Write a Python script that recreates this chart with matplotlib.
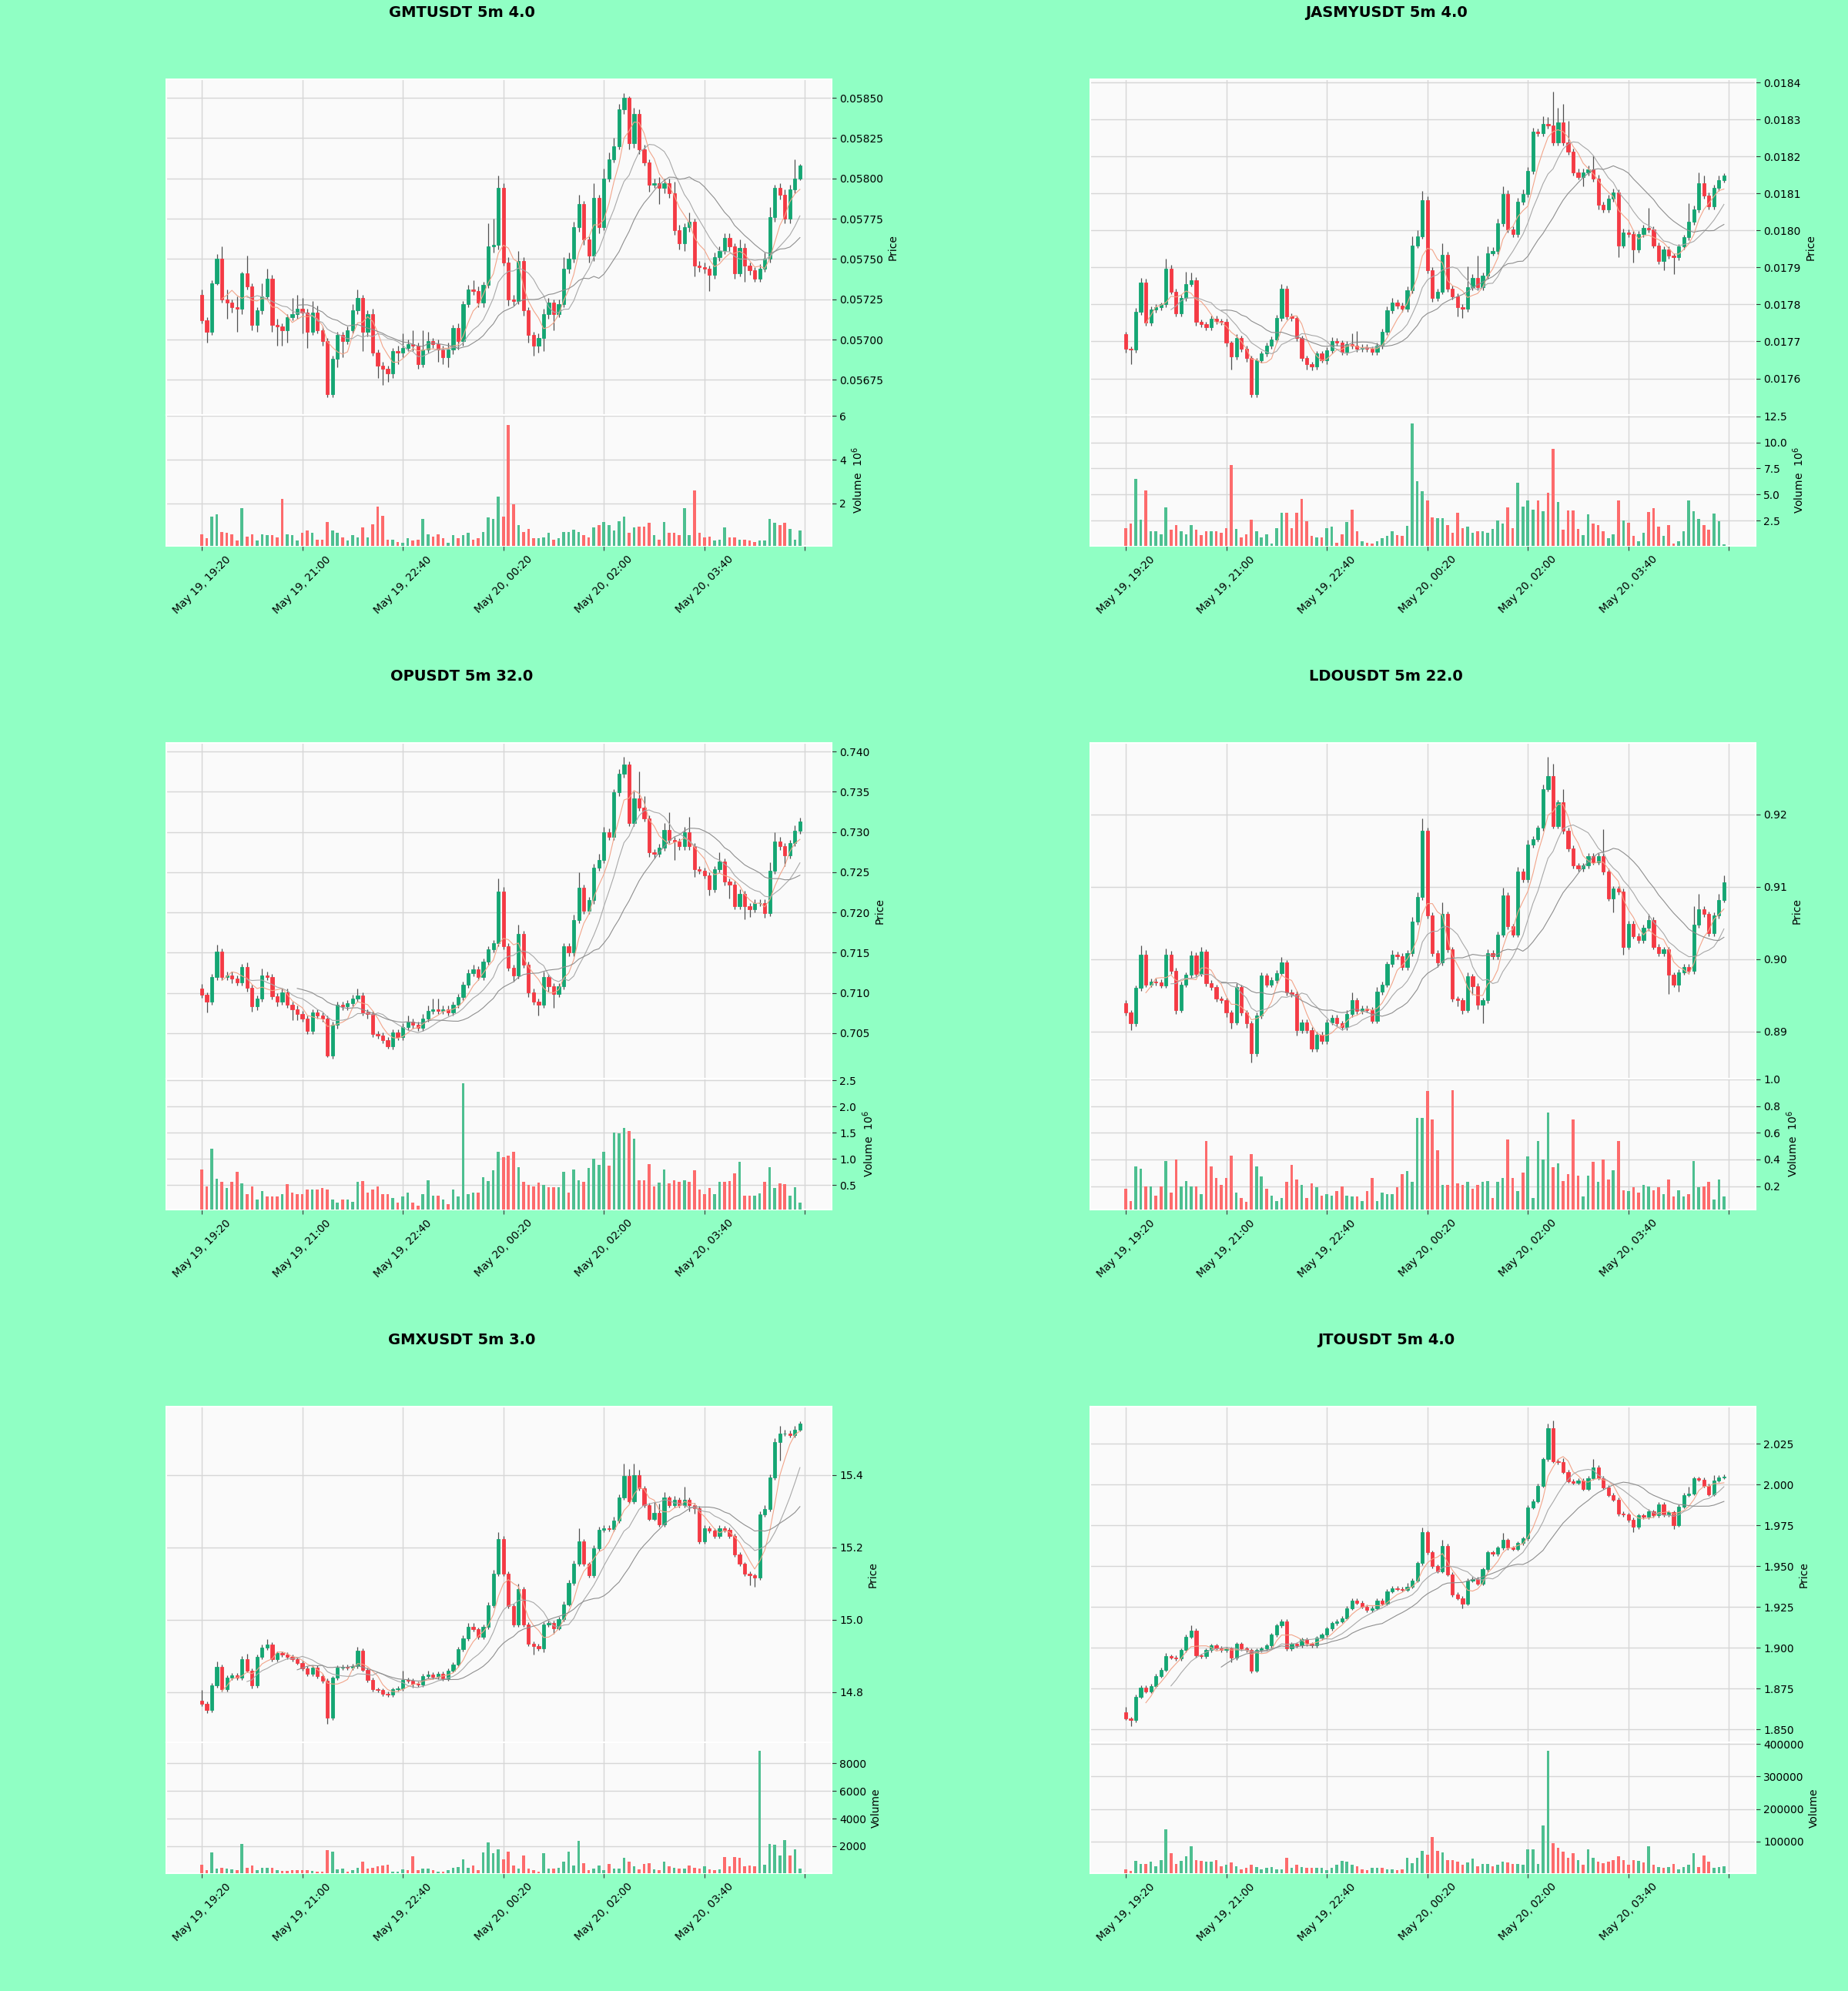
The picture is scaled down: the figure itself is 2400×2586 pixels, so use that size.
import numpy as np
import pandas as pd
import matplotlib
matplotlib.use("Agg")
import matplotlib.pyplot as plt

# ---------------- data ----------------
start_time = "2024-05-19 19:20"
n_bars = 120
tick_step = 20
mav = (5, 10, 20)

titles = ["GMTUSDT 5m 4.0", "JASMYUSDT 5m 4.0", "OPUSDT 5m 32.0",
          "LDOUSDT 5m 22.0", "GMXUSDT 5m 3.0", "JTOUSDT 5m 4.0"]

# GMTUSDT (prices in 1e-5, volume in 1e6)
gmt_unit = 1e-5
gmt_open0 = 5728
gmt_close = [5712, 5705, 5735, 5750, 5725, 5723, 5720, 5719, 5741, 5733,
             5709, 5718, 5727, 5738, 5709, 5708, 5706, 5714, 5716, 5719,
             5717, 5705, 5717, 5706, 5699, 5666, 5688, 5703, 5699, 5706,
             5718, 5726, 5705, 5716, 5692, 5684, 5682, 5679, 5693, 5692,
             5695, 5697, 5696, 5685, 5694, 5699, 5697, 5694, 5689, 5694,
             5707, 5699, 5722, 5731, 5730, 5723, 5734, 5758, 5759, 5794,
             5748, 5725, 5724, 5749, 5718, 5703, 5696, 5701, 5716, 5723,
             5716, 5722, 5744, 5750, 5770, 5784, 5762, 5752, 5788, 5770,
             5800, 5812, 5820, 5843, 5850, 5822, 5840, 5818, 5810, 5796,
             5797, 5794, 5797, 5791, 5768, 5760, 5770, 5773, 5746, 5745,
             5744, 5740, 5751, 5755, 5763, 5758, 5741, 5757, 5746, 5743,
             5738, 5744, 5750, 5776, 5794, 5790, 5775, 5793, 5800, 5808]
gmt_wick_up = [3, 2, 2, 3, 8, 6, 2, 7, 1, 11, 2, 2, 8, 6, 2, 4, 2, 2, 10, 9,
               7, 2, 7, 4, 2, 2, 2, 2, 2, 2, 4, 5, 2, 2, 3, 2, 2, 2, 2, 3,
               9, 3, 9, 2, 12, 6, 2, 3, 2, 4, 2, 3, 2, 3, 6, 3, 2, 14, 16, 8,
               3, 3, 3, 6, 2, 2, 2, 3, 3, 3, 2, 3, 7, 4, 3, 6, 2, 2, 9, 2,
               6, 4, 5, 3, 3, 1, 4, 3, 3, 2, 3, 4, 3, 3, 7, 3, 2, 6, 2, 3,
               3, 2, 3, 3, 3, 3, 2, 5, 3, 2, 2, 3, 4, 6, 2, 3, 3, 3, 12, 1]
gmt_wick_dn = [2, 7, 2, 1, 2, 10, 3, 14, 3, 2, 3, 4, 2, 2, 4, 12, 10, 8, 2, 3,
               13, 10, 2, 2, 3, 2, 2, 5, 10, 2, 2, 2, 12, 3, 2, 8, 10, 5, 3, 7,
               3, 2, 3, 3, 2, 2, 2, 8, 4, 6, 3, 5, 3, 2, 2, 3, 3, 2, 4, 3,
               2, 4, 3, 2, 3, 5, 6, 4, 8, 3, 10, 2, 2, 3, 2, 3, 3, 4, 3, 4,
               2, 2, 2, 2, 3, 4, 3, 3, 2, 4, 2, 10, 3, 3, 3, 4, 5, 3, 7, 3,
               3, 10, 2, 2, 2, 3, 3, 2, 10, 3, 2, 2, 2, 2, 3, 3, 3, 3, 2, 1]
gmt_volume = [0.6, 0.4, 1.4, 1.5, 0.7, 0.65, 0.6, 0.3, 1.8, 0.5,
              0.6, 0.3, 0.6, 0.55, 0.55, 0.45, 2.2, 0.6, 0.55, 0.3,
              0.65, 0.75, 0.65, 0.35, 0.35, 1.15, 0.75, 0.65, 0.45, 0.3,
              0.55, 0.45, 0.9, 0.45, 1.05, 1.85, 1.45, 0.35, 0.35, 0.25,
              0.2, 0.4, 0.3, 0.35, 1.3, 0.6, 0.5, 0.6, 0.4, 0.2,
              0.55, 0.4, 0.55, 0.65, 0.35, 0.4, 0.7, 1.35, 1.3, 2.3,
              1.4, 5.6, 1.95, 1.0, 0.7, 0.85, 0.4, 0.4, 0.45, 0.65,
              0.35, 0.4, 0.7, 0.7, 0.8, 0.7, 0.55, 0.45, 0.9, 1.0,
              1.15, 1.0, 0.75, 1.2, 1.4, 0.65, 0.9, 0.95, 0.95, 1.1,
              0.55, 0.35, 1.15, 0.65, 0.65, 0.55, 1.8, 0.55, 2.6, 0.65,
              0.45, 0.5, 0.3, 0.35, 0.9, 0.45, 0.45, 0.35, 0.35, 0.3,
              0.25, 0.3, 0.3, 1.3, 1.1, 1.0, 1.1, 0.85, 0.35, 0.75]

# JASMYUSDT (prices in 1e-6, volume in 1e6)
jasmy_unit = 1e-6
jasmy_open0 = 17719
jasmy_close = [17680, 17678, 17780, 17860, 17751, 17786, 17793, 17800, 17897, 17835,
               17776, 17818, 17856, 17866, 17753, 17747, 17738, 17761, 17755, 17753,
               17696, 17659, 17709, 17680, 17655, 17558, 17650, 17667, 17688, 17705,
               17763, 17843, 17768, 17763, 17709, 17655, 17638, 17632, 17667, 17650,
               17676, 17701, 17696, 17671, 17692, 17688, 17680, 17684, 17680, 17671,
               17688, 17726, 17784, 17805, 17797, 17789, 17839, 17960, 17985, 18082,
               17893, 17818, 17835, 17935, 17843, 17822, 17793, 17789, 17847, 17872,
               17847, 17877, 17939, 17944, 18019, 18098, 18002, 17990, 18078, 18098,
               18161, 18266, 18262, 18287, 18283, 18237, 18291, 18237, 18212, 18157,
               18145, 18157, 18166, 18140, 18069, 18057, 18086, 18103, 17960, 17994,
               17990, 17948, 17990, 18006, 18002, 17960, 17918, 17948, 17931, 17927,
               17956, 17981, 18023, 18057, 18128, 18094, 18065, 18115, 18136, 18149]
jasmy_wick_up = [8, 6, 10, 12, 10, 8, 8, 6, 26, 10, 8, 8, 33, 20, 8, 6, 6, 8, 8, 6,
                 8, 6, 10, 6, 8, 6, 6, 8, 8, 8, 8, 13, 8, 8, 6, 6, 6, 6, 8, 8,
                 8, 10, 8, 8, 10, 30, 40, 8, 8, 6, 8, 8, 10, 12, 8, 8, 10, 25, 15, 25,
                 10, 8, 8, 30, 8, 8, 8, 8, 55, 10, 60, 10, 17, 10, 12, 21, 10, 8, 10, 12,
                 10, 12, 10, 21, 20, 92, 40, 50, 60, 10, 10, 10, 10, 37, 10, 8, 10, 10, 8, 10,
                 8, 8, 8, 10, 55, 8, 8, 8, 8, 8, 8, 8, 50, 10, 29, 20, 8, 8, 13, 6]
jasmy_wick_dn = [10, 40, 8, 8, 8, 8, 8, 8, 8, 8, 8, 8, 8, 8, 10, 8, 8, 8, 8, 8,
                 10, 34, 8, 8, 10, 8, 8, 8, 8, 8, 8, 8, 8, 8, 8, 8, 13, 10, 8, 8,
                 12, 8, 8, 8, 8, 8, 8, 8, 8, 8, 8, 8, 8, 8, 8, 8, 8, 8, 8, 8,
                 8, 10, 8, 8, 8, 8, 26, 26, 8, 8, 8, 8, 8, 8, 8, 8, 8, 8, 8, 8,
                 8, 8, 8, 8, 8, 8, 8, 8, 8, 8, 8, 26, 8, 8, 13, 8, 8, 8, 33, 8,
                 8, 34, 8, 8, 8, 8, 8, 25, 8, 46, 8, 8, 8, 8, 8, 8, 8, 8, 8, 6]
jasmy_volume = [1.75, 2.2, 6.5, 2.6, 5.4, 1.45, 1.45, 1.2, 3.8, 1.6,
                2.05, 1.45, 1.15, 2.05, 1.6, 1.1, 1.45, 1.45, 1.45, 1.3,
                1.8, 7.8, 1.7, 0.9, 1.15, 2.6, 1.5, 0.85, 1.15, 0.3,
                1.75, 3.25, 3.25, 1.8, 3.25, 4.6, 2.4, 1.0, 0.9, 0.9,
                1.75, 1.9, 0.4, 1.2, 2.35, 3.55, 1.45, 0.55, 0.4, 0.3,
                0.55, 0.8, 1.0, 1.45, 1.1, 1.0, 2.0, 11.8, 6.25, 5.3,
                4.4, 2.8, 2.75, 2.75, 2.05, 1.3, 3.25, 1.8, 1.9, 1.3,
                1.45, 1.45, 1.3, 1.7, 2.5, 2.2, 3.8, 1.75, 6.1, 3.85,
                4.45, 3.55, 4.45, 3.4, 5.2, 9.4, 4.3, 1.6, 3.5, 3.5,
                1.7, 1.1, 3.1, 2.2, 2.1, 1.45, 0.8, 1.15, 4.45, 2.5,
                2.3, 1.0, 0.55, 1.3, 3.3, 3.7, 1.9, 1.0, 2.05, 0.3,
                0.5, 1.45, 4.45, 3.4, 2.65, 2.05, 1.6, 3.2, 2.4, 0.25]

# OPUSDT (prices in 1e-4, volume in 1e6)
op_unit = 1e-4
op_open0 = 7105
op_close = [7097.5, 7089, 7120, 7151, 7120, 7122, 7118, 7113, 7132, 7106,
            7083, 7093, 7122, 7120, 7096, 7089, 7101, 7085, 7080, 7074,
            7068, 7053, 7076, 7072, 7068, 7022, 7060, 7085, 7083, 7087,
            7093, 7097, 7076, 7074, 7049, 7047, 7041, 7034, 7051, 7045,
            7058, 7064, 7060, 7057, 7068, 7078, 7080, 7078, 7080, 7076,
            7085, 7095, 7110, 7125, 7129, 7120, 7139, 7154, 7162, 7226,
            7158, 7131, 7122, 7173, 7135, 7101, 7089, 7085, 7120, 7108,
            7099, 7108, 7158, 7150, 7191, 7231, 7202, 7215, 7256, 7265,
            7300, 7294, 7349, 7372, 7384, 7311, 7342, 7330, 7317, 7275,
            7273, 7281, 7303, 7290, 7288, 7282, 7300, 7282, 7254, 7252,
            7246, 7229, 7254, 7263, 7238, 7235, 7208, 7223, 7208, 7204,
            7212, 7212, 7199, 7252, 7288, 7282, 7271, 7286, 7302, 7313]
op_wick_up = [6, 3, 4, 9, 4, 4, 4, 4, 4, 6, 4, 4, 8, 4, 4, 4, 4, 4, 4, 4,
              4, 4, 4, 4, 4, 4, 4, 4, 4, 4, 5, 8, 4, 4, 4, 4, 4, 4, 4, 4,
              4, 8, 4, 4, 6, 6, 13, 13, 4, 4, 4, 4, 4, 4, 6, 4, 4, 4, 4, 16,
              6, 4, 4, 12, 4, 4, 4, 4, 6, 4, 4, 4, 4, 4, 6, 19, 4, 4, 4, 8,
              6, 4, 4, 6, 9, 4, 8, 33, 15, 4, 4, 4, 8, 22, 4, 4, 6, 19, 4, 4,
              4, 4, 4, 12, 4, 4, 4, 6, 4, 4, 4, 4, 4, 10, 12, 6, 4, 4, 6, 5]
op_wick_dn = [4, 13, 4, 4, 4, 4, 6, 4, 4, 4, 6, 4, 4, 4, 4, 6, 4, 4, 14, 8,
              4, 4, 4, 4, 4, 2, 4, 4, 4, 4, 4, 4, 4, 6, 4, 4, 4, 3, 4, 4,
              4, 4, 4, 4, 4, 4, 4, 4, 4, 4, 4, 4, 4, 4, 4, 4, 4, 4, 4, 4,
              4, 4, 8, 4, 4, 6, 4, 13, 4, 6, 18, 4, 4, 4, 4, 4, 4, 4, 4, 4,
              4, 4, 4, 4, 4, 4, 4, 4, 4, 6, 6, 4, 4, 4, 23, 4, 4, 4, 10, 4,
              4, 8, 4, 4, 4, 18, 4, 4, 16, 10, 4, 4, 6, 4, 4, 4, 13, 4, 4, 4]
op_volume = [0.8, 0.47, 1.2, 0.62, 0.56, 0.44, 0.56, 0.76, 0.53, 0.32,
             0.47, 0.23, 0.38, 0.29, 0.29, 0.29, 0.32, 0.52, 0.36, 0.32,
             0.32, 0.42, 0.42, 0.41, 0.44, 0.42, 0.23, 0.17, 0.22, 0.22,
             0.18, 0.56, 0.58, 0.36, 0.41, 0.47, 0.32, 0.32, 0.26, 0.17,
             0.29, 0.35, 0.17, 0.11, 0.32, 0.59, 0.3, 0.3, 0.22, 0.14,
             0.41, 0.29, 2.44, 0.32, 0.36, 0.36, 0.65, 0.58, 0.78, 1.14,
             1.03, 1.06, 1.13, 0.84, 0.56, 0.5, 0.47, 0.55, 0.5, 0.46,
             0.46, 0.46, 0.76, 0.35, 0.8, 0.59, 0.56, 0.82, 1.0, 0.88,
             1.13, 0.87, 1.5, 1.49, 1.59, 1.53, 1.39, 0.59, 0.59, 0.9,
             0.48, 0.55, 0.8, 0.53, 0.59, 0.56, 0.59, 0.56, 0.78, 0.42,
             0.32, 0.44, 0.32, 0.56, 0.56, 0.58, 0.72, 0.94, 0.3, 0.3,
             0.3, 0.34, 0.56, 0.84, 0.44, 0.53, 0.52, 0.3, 0.46, 0.17]

# LDOUSDT (prices in 1e-4, volume in 1e6)
ldo_unit = 1e-4
ldo_open0 = 8939
ldo_close = [8926, 8911, 8960, 9006, 8965, 8969, 8968, 8964, 9006, 8984,
             8930, 8965, 8978, 9005, 8980, 9010, 8967, 8961, 8945, 8943,
             8926, 8913, 8961, 8926, 8911, 8870, 8922, 8977, 8965, 8971,
             8981, 8995, 8954, 8952, 8902, 8913, 8902, 8876, 8896, 8887,
             8913, 8919, 8911, 8906, 8924, 8943, 8928, 8932, 8930, 8915,
             8955, 8965, 8993, 9006, 9004, 8989, 9008, 9052, 9086, 9177,
             9060, 9008, 8995, 9062, 9013, 8945, 8943, 8930, 8976, 8963,
             8937, 8943, 9008, 9004, 9034, 9088, 9045, 9034, 9121, 9110,
             9158, 9166, 9181, 9235, 9253, 9184, 9216, 9177, 9153, 9129,
             9125, 9129, 9142, 9134, 9142, 9121, 9084, 9097, 9093, 9017,
             9049, 9032, 9026, 9043, 9054, 9017, 9008, 9013, 8978, 8965,
             8982, 8989, 8984, 9047, 9069, 9062, 9036, 9060, 9082, 9106]
ldo_wick_up = [4, 4, 4, 13, 6, 4, 4, 4, 9, 5, 4, 4, 4, 6, 4, 7, 4, 4, 4, 4,
               4, 4, 6, 4, 4, 4, 4, 5, 4, 4, 4, 8, 4, 4, 4, 4, 4, 4, 4, 4,
               4, 4, 4, 4, 6, 11, 4, 4, 4, 4, 6, 4, 4, 6, 4, 4, 4, 6, 6, 17,
               4, 4, 4, 16, 4, 4, 4, 4, 6, 4, 4, 4, 6, 4, 4, 11, 4, 4, 6, 4,
               6, 4, 4, 6, 26, 17, 4, 19, 4, 4, 4, 4, 4, 4, 4, 37, 4, 4, 4, 4,
               4, 4, 4, 4, 8, 4, 4, 4, 4, 4, 4, 4, 4, 26, 21, 4, 4, 4, 8, 10]
ldo_wick_dn = [4, 9, 4, 4, 4, 4, 4, 4, 4, 4, 6, 4, 4, 4, 4, 4, 4, 4, 4, 4,
               6, 9, 4, 4, 6, 13, 4, 4, 4, 4, 4, 4, 4, 4, 8, 4, 4, 4, 4, 4,
               4, 4, 4, 4, 4, 4, 4, 4, 4, 4, 4, 4, 4, 4, 4, 4, 4, 4, 4, 4,
               4, 4, 6, 4, 4, 4, 8, 6, 4, 12, 6, 26, 4, 4, 4, 4, 4, 4, 4, 4,
               4, 4, 4, 4, 4, 4, 4, 4, 4, 4, 4, 4, 4, 4, 4, 4, 4, 19, 4, 11,
               4, 4, 4, 4, 4, 4, 4, 4, 26, 4, 10, 4, 4, 4, 4, 4, 4, 4, 4, 4]
ldo_volume = [0.18, 0.09, 0.35, 0.33, 0.2, 0.2, 0.13, 0.2, 0.39, 0.15,
              0.4, 0.2, 0.24, 0.2, 0.2, 0.14, 0.54, 0.35, 0.26, 0.21,
              0.26, 0.43, 0.15, 0.11, 0.08, 0.44, 0.35, 0.27, 0.18, 0.13,
              0.09, 0.11, 0.23, 0.36, 0.25, 0.21, 0.11, 0.22, 0.19, 0.13,
              0.14, 0.13, 0.16, 0.2, 0.13, 0.12, 0.12, 0.09, 0.16, 0.26,
              0.09, 0.15, 0.14, 0.14, 0.19, 0.29, 0.31, 0.23, 0.71, 0.71,
              0.91, 0.7, 0.47, 0.21, 0.21, 0.92, 0.22, 0.21, 0.23, 0.18,
              0.21, 0.23, 0.24, 0.11, 0.23, 0.26, 0.55, 0.26, 0.16, 0.3,
              0.42, 0.11, 0.54, 0.4, 0.75, 0.34, 0.37, 0.24, 0.29, 0.7,
              0.28, 0.12, 0.28, 0.38, 0.23, 0.4, 0.25, 0.32, 0.54, 0.17,
              0.16, 0.19, 0.15, 0.21, 0.2, 0.17, 0.19, 0.14, 0.25, 0.12,
              0.17, 0.12, 0.14, 0.39, 0.19, 0.2, 0.23, 0.1, 0.25, 0.12]

# GMXUSDT (prices in 1e-2, volume raw)
gmx_unit = 1e-2
gmx_open0 = 1477.6
gmx_close = [1476.8, 1475, 1481.8, 1487, 1480.7, 1484, 1484.6, 1483.9, 1489.1, 1486,
             1481.8, 1489.7, 1492.3, 1493.1, 1489.1, 1490.7, 1490.4, 1489.7, 1489.1, 1488.1,
             1486.5, 1485.1, 1486.8, 1484.4, 1483.1, 1472.9, 1483.9, 1486.8, 1487, 1486.8,
             1487.2, 1491.4, 1486.2, 1483.4, 1480.7, 1480.5, 1479.5, 1479.2, 1480.7, 1481,
             1483.4, 1483.1, 1482.3, 1482, 1484.4, 1484.9, 1484.1, 1485.1, 1483.7, 1486,
             1487.6, 1491.8, 1494.9, 1498, 1497.3, 1495.2, 1498, 1504, 1512.7, 1522.2,
             1512.7, 1503.8, 1498.6, 1508.5, 1498.6, 1493.3, 1492.8, 1492.1, 1498.6, 1499.1,
             1497.7, 1500.1, 1504.3, 1510.1, 1515.4, 1521.6, 1515.4, 1512.2, 1519.8, 1524.8,
             1525.3, 1525, 1527.4, 1533.7, 1539.7, 1532.7, 1540, 1536.3, 1531.6, 1527.9,
             1529.5, 1526.4, 1533.7, 1531.6, 1533.2, 1531.6, 1533.2, 1531.6, 1530.9, 1521.6,
             1525.3, 1524.6, 1523.2, 1525.3, 1524.8, 1523.2, 1518, 1515.4, 1512.7, 1512.2,
             1511.7, 1529, 1530.6, 1539.3, 1549.1, 1551.5, 1551.5, 1551, 1552.6, 1554.2]
gmx_wick_up = [3, 0.6, 0.6, 1.5, 0.6, 0.6, 0.6, 0.6, 0.8, 1.5,
               0.6, 0.6, 0.8, 1.5, 0.6, 0.6, 0.6, 0.6, 0.6, 0.6,
               0.6, 0.6, 0.6, 0.6, 0.6, 0.6, 0.6, 0.6, 0.6, 0.6,
               0.6, 1.0, 0.6, 0.6, 0.6, 0.6, 0.6, 0.6, 0.6, 0.6,
               2.4, 0.6, 0.6, 0.6, 0.6, 1.0, 0.6, 0.6, 0.6, 0.6,
               0.6, 0.6, 0.8, 1.0, 1.0, 0.6, 0.6, 0.8, 1.0, 2.1,
               1.0, 0.6, 0.6, 1.5, 0.6, 0.6, 0.6, 0.6, 0.6, 0.6,
               0.6, 0.6, 0.8, 1.0, 1.0, 3.7, 0.6, 0.6, 0.8, 1.0,
               0.8, 0.8, 1.0, 1.0, 3.5, 2.0, 3.1, 1.5, 0.6, 0.6,
               3.0, 2.5, 1.5, 0.6, 1.0, 0.6, 3.5, 0.6, 0.6, 0.6,
               0.8, 0.6, 0.6, 0.8, 0.6, 0.6, 0.6, 0.6, 0.6, 0.6,
               0.6, 1.0, 1.0, 0.8, 1.0, 2.0, 1.0, 0.8, 1.0, 0.6]
gmx_wick_dn = [0.6, 0.8, 0.6, 0.6, 0.6, 0.6, 0.6, 0.6, 0.6, 0.6,
               0.8, 0.6, 0.6, 0.6, 0.6, 0.6, 0.6, 0.6, 0.6, 0.6,
               0.6, 0.6, 0.6, 0.6, 0.6, 1.6, 0.6, 0.6, 0.6, 0.6,
               0.6, 0.6, 0.6, 0.6, 0.6, 0.6, 0.6, 0.6, 0.6, 0.6,
               0.6, 0.6, 1.0, 0.6, 0.6, 0.6, 0.6, 0.6, 0.6, 0.6,
               0.6, 0.6, 0.6, 0.6, 0.6, 0.6, 0.6, 0.6, 0.6, 0.6,
               0.6, 0.6, 0.6, 0.6, 0.6, 0.6, 2.4, 0.6, 1.0, 0.6,
               1.5, 0.6, 0.6, 0.6, 0.6, 0.6, 0.6, 0.6, 0.6, 0.6,
               0.6, 0.6, 0.6, 0.6, 0.6, 0.6, 0.6, 0.6, 0.6, 0.6,
               0.6, 0.6, 0.6, 0.6, 0.6, 0.6, 0.6, 1.6, 1.6, 0.6,
               0.6, 0.6, 0.6, 0.6, 0.6, 0.6, 0.6, 0.6, 0.6, 2.6,
               2.6, 0.6, 0.6, 0.6, 0.6, 5.0, 0.6, 0.6, 0.6, 0.6]
gmx_volume = [660, 250, 1550, 390, 440, 390, 330, 250, 2160, 440,
              610, 250, 440, 440, 440, 250, 220, 220, 250, 300,
              300, 250, 220, 170, 170, 1710, 1630, 330, 390, 170,
              250, 440, 890, 390, 440, 530, 610, 660, 170, 170,
              330, 250, 1270, 250, 390, 390, 250, 170, 170, 250,
              440, 500, 1080, 440, 610, 300, 1550, 2270, 1490, 1770,
              1080, 1630, 610, 390, 1350, 390, 250, 170, 1490, 390,
              390, 440, 890, 1630, 610, 2380, 770, 250, 390, 610,
              250, 720, 390, 390, 1160, 890, 530, 330, 720, 770,
              330, 250, 890, 530, 440, 390, 390, 610, 440, 390,
              530, 330, 250, 330, 1220, 530, 1220, 1160, 530, 610,
              530, 8900, 660, 2190, 2100, 1350, 2460, 1350, 1770, 390]

# JTOUSDT (prices in 1e-3, volume raw)
jto_unit = 1e-3
jto_open0 = 1860.5
jto_close = [1856.7, 1855.7, 1870, 1875.7, 1873.2, 1876.6, 1882.7, 1886.5, 1894.7, 1894.1,
             1893.4, 1898.5, 1906.7, 1910.5, 1895.3, 1894.7, 1898.5, 1901.4, 1899.8, 1898.5,
             1899.4, 1893.7, 1902.3, 1899.4, 1898.5, 1886.1, 1898.5, 1899.4, 1901.4, 1908,
             1913.7, 1916.2, 1899.4, 1902.3, 1901.4, 1905.2, 1902.3, 1901.4, 1906.1, 1908,
             1911.8, 1915, 1916.2, 1918.1, 1924.2, 1928.9, 1927.6, 1925.1, 1923.2, 1924.2,
             1928.9, 1927, 1934.6, 1936.5, 1936, 1935.6, 1937.5, 1941.3, 1951.8, 1970.8,
             1958.4, 1949.9, 1947, 1962.6, 1945.1, 1932.7, 1930.3, 1927, 1941.3, 1942.3,
             1939.4, 1948, 1958.4, 1957.5, 1961.3, 1966, 1961.3, 1960.7, 1964.1, 1967,
             1986, 1989.8, 1999.3, 2015.5, 2034.5, 2014.5, 2013.6, 2007.9, 2002.2, 2001.2,
             2002.6, 1997.4, 2004, 2010.7, 2004, 1998.4, 1993.6, 1990.8, 1982.2, 1981.6,
             1978.4, 1974, 1981.2, 1980.3, 1983.5, 1981.2, 1987.9, 1981.6, 1983.1, 1975.2,
             1986.6, 1993.6, 1994.6, 2003.7, 2003.1, 1999.3, 1994.2, 2002.6, 2004.5, 2005]
jto_wick_up = [3.2, 1.0, 1.2, 1.2, 1.2, 1.2, 1.2, 1.2, 1.9, 1.2,
               1.2, 1.2, 1.2, 3.3, 1.2, 1.2, 1.2, 1.2, 1.2, 1.2,
               1.2, 1.2, 1.2, 1.2, 1.2, 1.2, 1.2, 1.2, 1.2, 1.2,
               1.2, 1.3, 1.2, 1.2, 1.2, 1.2, 1.2, 1.2, 1.2, 1.2,
               1.2, 1.2, 1.2, 1.2, 1.2, 1.2, 1.2, 1.2, 1.2, 1.2,
               1.2, 1.2, 1.5, 1.5, 1.2, 1.2, 2.3, 1.2, 1.2, 2.8,
               1.2, 1.2, 1.2, 3.4, 1.2, 1.2, 1.2, 1.2, 1.2, 1.2,
               1.2, 1.2, 1.2, 1.2, 1.2, 4.2, 1.2, 1.2, 1.2, 1.2,
               1.2, 1.2, 1.2, 1.2, 2.9, 4.8, 1.2, 2.5, 1.2, 1.2,
               1.2, 1.2, 1.2, 4.8, 1.2, 1.2, 1.2, 1.2, 1.2, 1.2,
               1.2, 1.2, 1.2, 1.2, 1.5, 1.2, 1.2, 1.2, 1.2, 1.2,
               1.2, 1.2, 4.2, 1.2, 1.2, 1.2, 1.2, 3.4, 1.2, 1.2]
jto_wick_dn = [1.2, 3.7, 1.2, 1.2, 1.2, 1.2, 1.2, 1.2, 1.2, 1.2,
               1.2, 1.2, 1.2, 1.2, 1.2, 1.2, 1.2, 1.2, 1.2, 1.2,
               1.2, 2.5, 1.2, 1.2, 1.2, 1.5, 1.2, 1.2, 1.2, 1.2,
               1.2, 1.2, 1.2, 1.2, 1.2, 1.2, 1.2, 1.2, 1.2, 1.2,
               1.2, 1.2, 1.2, 1.2, 1.2, 1.2, 1.2, 1.2, 1.2, 1.2,
               1.2, 1.2, 1.2, 1.2, 1.2, 1.2, 1.2, 1.2, 1.2, 1.2,
               1.2, 1.2, 1.2, 1.2, 1.2, 1.5, 1.2, 2.8, 1.2, 1.2,
               1.2, 1.2, 1.2, 1.2, 1.2, 1.2, 1.2, 1.2, 1.2, 1.2,
               1.2, 1.2, 1.2, 1.2, 1.2, 1.2, 1.2, 1.2, 1.2, 1.2,
               1.2, 1.2, 1.2, 1.2, 1.2, 1.2, 1.2, 1.2, 1.2, 1.2,
               1.2, 3.2, 1.2, 1.2, 1.2, 1.2, 1.2, 1.2, 1.2, 2.5,
               1.2, 1.2, 1.2, 1.2, 1.2, 1.2, 1.2, 1.2, 1.2, 1.2]
jto_volume = [15000, 8700, 40000, 31000, 31000, 37500, 23000, 44000, 138000, 63000,
              31000, 40000, 54000, 86000, 44000, 40000, 37500, 37500, 42000, 25000,
              28000, 34600, 23000, 15000, 18000, 28000, 21000, 15000, 18000, 21000,
              15000, 15000, 50000, 18000, 28000, 21000, 18000, 18000, 18000, 18000,
              11500, 18000, 28000, 40000, 37500, 28000, 23000, 13500, 11500, 18000,
              18000, 18000, 15000, 13500, 11500, 15000, 50000, 32700, 50000, 71000,
              60000, 114000, 71000, 66000, 42000, 42000, 37500, 28000, 34600, 47000,
              23000, 31000, 31000, 23000, 28000, 37500, 34600, 31000, 31000, 28000,
              76000, 76000, 31000, 150000, 379000, 95000, 81000, 69000, 50000, 63000,
              42000, 28000, 76000, 50000, 37500, 32700, 37500, 42000, 54000, 44000,
              28000, 44000, 40000, 34600, 86000, 28000, 21000, 18000, 21000, 31000,
              15000, 21000, 28000, 63000, 21000, 57000, 37500, 18000, 21000, 23000]

# ---------------- panel settings (axis ranges/ticks) ----------------
panels = [
    dict(unit=gmt_unit, open0=gmt_open0, close=gmt_close, up=gmt_wick_up, dn=gmt_wick_dn,
         vol=np.array(gmt_volume) * 1e6, ylim=(0.0565325, 0.058615),
         yticks=np.linspace(0.05675, 0.0585, 8), yfmt="{:.5f}",
         vtop=6.05e6, vticks=[2e6, 4e6, 6e6], vlabels=["2", "4", "6"],
         vname="Volume  $10^{6}$"),
    dict(unit=jasmy_unit, open0=jasmy_open0, close=jasmy_close, up=jasmy_wick_up, dn=jasmy_wick_dn,
         vol=np.array(jasmy_volume) * 1e6, ylim=(0.0175013, 0.0184084),
         yticks=np.linspace(0.0176, 0.0184, 9), yfmt="{:.4f}",
         vtop=12.62e6, vticks=[2.5e6, 5e6, 7.5e6, 10e6, 12.5e6],
         vlabels=["2.5", "5.0", "7.5", "10.0", "12.5"], vname="Volume  $10^{6}$"),
    dict(unit=op_unit, open0=op_open0, close=op_close, up=op_wick_up, dn=op_wick_dn,
         vol=np.array(op_volume) * 1e6, ylim=(0.69934, 0.74107),
         yticks=np.linspace(0.705, 0.740, 8), yfmt="{:.3f}",
         vtop=2.53e6, vticks=[0.5e6, 1e6, 1.5e6, 2e6, 2.5e6],
         vlabels=["0.5", "1.0", "1.5", "2.0", "2.5"], vname="Volume  $10^{6}$"),
    dict(unit=ldo_unit, open0=ldo_open0, close=ldo_close, up=ldo_wick_up, dn=ldo_wick_dn,
         vol=np.array(ldo_volume) * 1e6, ylim=(0.8835, 0.92983),
         yticks=np.linspace(0.89, 0.92, 4), yfmt="{:.2f}",
         vtop=1.005e6, vticks=[0.2e6, 0.4e6, 0.6e6, 0.8e6, 1e6],
         vlabels=["0.2", "0.4", "0.6", "0.8", "1.0"], vname="Volume  $10^{6}$"),
    dict(unit=gmx_unit, open0=gmx_open0, close=gmx_close, up=gmx_wick_up, dn=gmx_wick_dn,
         vol=np.array(gmx_volume, dtype=float), ylim=(14.661, 15.589),
         yticks=np.linspace(14.8, 15.4, 4), yfmt="{:.1f}",
         vtop=9515, vticks=[2000, 4000, 6000, 8000],
         vlabels=["2000", "4000", "6000", "8000"], vname="Volume"),
    dict(unit=jto_unit, open0=jto_open0, close=jto_close, up=jto_wick_up, dn=jto_wick_dn,
         vol=np.array(jto_volume, dtype=float), ylim=(1.842, 2.0478),
         yticks=np.linspace(1.85, 2.025, 8), yfmt="{:.3f}",
         vtop=405000, vticks=[100000, 200000, 300000, 400000],
         vlabels=["100000", "200000", "300000", "400000"], vname="Volume"),
]

# colours (yahoo-like)
bg = "#90ffc4"
face = "#fafafa"
grid_c = "#d6d6d6"
up_c, down_c = "#14a673", "#f43a44"
vup_c, vdown_c = "#4dbf90", "#fd6b6c"
wick_c = "#505050"
ma_colors = ["#f2a58a", "#a8a8a8", "#8e8e8e"]

W, H = 2400, 2586
fig = plt.figure(figsize=(W / 100, H / 100), dpi=100, facecolor=bg)

col_left = [216, 1416]
ax_w = 864
row_top = [103, 965, 1827]
price_h, vol_h = 436, 170
title_y = [16, 878, 1740]

times = pd.date_range(start_time, periods=n_bars, freq="5min")
xt = np.arange(0, n_bars + 1, tick_step)
xt_labels = [times[t].strftime("%b %d, %H:%M") if t < n_bars else "" for t in xt]
x = np.arange(n_bars)

for k, p in enumerate(panels):
    r, c = divmod(k, 2)
    left = col_left[c] / W
    top = row_top[r]
    axp = fig.add_axes([left, 1 - (top + price_h) / H, ax_w / W, price_h / H])
    axv = fig.add_axes([left, 1 - (top + price_h + vol_h) / H, ax_w / W, vol_h / H])

    close = np.array(p["close"], dtype=float)
    opn = np.concatenate([[p["open0"]], close[:-1]])
    high = np.maximum(opn, close) + np.array(p["up"])
    low = np.minimum(opn, close) - np.array(p["dn"])
    close, opn, high, low = [a * p["unit"] for a in (close, opn, high, low)]
    rising = close >= opn

    for ax in (axp, axv):
        ax.set_facecolor(face)
        for s in ax.spines.values():
            s.set_color("white")
            s.set_linewidth(1.5)
        ax.grid(True, color=grid_c, linewidth=1.0)
        ax.set_axisbelow(True)
        ax.yaxis.tick_right()
        ax.yaxis.set_label_position("right")
        ax.set_xlim(-7.05, 125.3)
        ax.set_xticks(xt)
        ax.tick_params(axis="y", labelsize=10, length=4, color="#333333")

    # candles
    axp.vlines(x, low, high, color=wick_c, linewidth=0.9, zorder=2)
    body_c = np.where(rising, up_c, down_c)
    axp.bar(x, close - opn, bottom=opn, width=0.65, color=body_c,
            edgecolor=body_c, linewidth=0.6, zorder=3)
    s = pd.Series(close)
    for n, mc in zip(mav, ma_colors):
        axp.plot(x, s.rolling(n).mean(), color=mc, linewidth=0.8, zorder=4)

    axp.set_ylim(*p["ylim"])
    axp.set_yticks(p["yticks"])
    axp.set_yticklabels([p["yfmt"].format(v) for v in p["yticks"]])
    axp.tick_params(axis="x", length=0, labelbottom=False)
    axp.set_ylabel("Price", fontsize=10)

    # volume
    axv.bar(x, p["vol"], width=0.55, color=np.where(rising, vup_c, vdown_c), zorder=3)
    axv.set_ylim(0.3 * p["vol"].min(), p["vtop"])
    axv.set_yticks(p["vticks"])
    axv.set_yticklabels(p["vlabels"])
    axv.set_ylabel(p["vname"], fontsize=10)
    axv.set_xticklabels(xt_labels, rotation=45, fontsize=10)
    axv.tick_params(axis="x", length=4, color="#333333")

    fig.text(0.25 + 0.5 * c, 1 - title_y[r] / H, titles[k], ha="center",
             va="center", fontsize=14, fontweight="bold")

fig.savefig("out.png", dpi=100, facecolor=bg)
